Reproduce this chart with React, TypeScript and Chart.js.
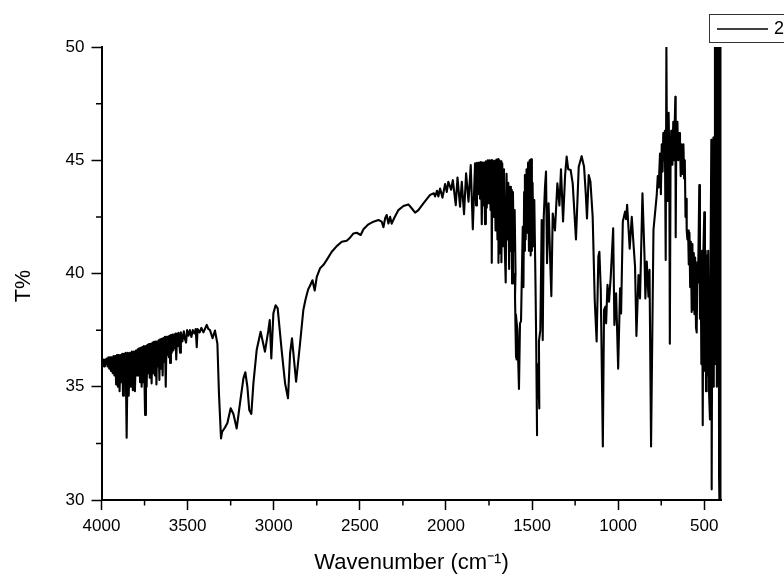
import React, { useEffect, useRef } from "react";
import { Chart, registerables } from "chart.js";

Chart.register(...registerables);

type P = [number, number];

const seriesName = "2";
const xMajorTicks = [4000, 3500, 3000, 2500, 2000, 1500, 1000, 500];
const xMinorTicks = [3750, 3250, 2750, 2250, 1750, 1250, 750];
const yMajorTicks = [30, 35, 40, 45, 50];
const yMinorTicks = [32.5, 37.5, 42.5, 47.5];

const noisyHigh: P[] = [
  [4000,36.1],[3995,35.9],[3990,36.2],[3985,35.9],[3980,36.2],[3975,36],[3970,36.25],[3965,35.9],[3960,36.3],[3955,35.8],
  [3950,36.3],[3945,35.7],[3940,36.3],[3935,35.6],[3930,36.35],[3925,35.5],[3920,36.35],[3915,35.1],[3910,36.4],[3905,35],
  [3900,36.4],[3895,34.8],[3890,36.4],[3885,35.2],[3880,36.45],[3875,34.6],[3870,36.45],[3865,35.3],[3860,36.5],[3854,32.75],
  [3848,36.5],[3842,34.6],[3836,36.5],[3830,35],[3824,36.55],[3818,34.85],[3812,36.55],[3806,34.8],[3800,36.6],[3794,35.5],
  [3790,36.65],[3785,35.5],[3781,36.7],[3776,35.2],[3772,36.72],[3767,35],[3763,36.75],[3758,35.2],[3754,36.8],[3747,33.75],
  [3742,36.8],[3738,35],[3733,36.85],[3729,35.6],[3724,36.88],[3720,35.4],[3715,36.9],[3709,35.15],[3704,36.95],[3700,35.6],
  [3695,36.98],[3690,35.5],[3686,37],[3681,35.1],[3677,37],[3672,35.9],[3668,37.05],[3664,35.3],[3659,37.1],[3654,35.8],
  [3650,37.12],[3645,35.5],[3641,37.15],[3636,36.1],[3632,37.2],[3627,35],[3622,37.2],[3618,36.4],[3613,37.22],[3609,36.3],
  [3605,37.25],[3602,36.05],[3597,37.28],[3592,36.5],[3588,37.3],[3583,36.6],[3579,37.3],[3574,36.7],[3570,37.35],[3566,36.2],
  [3561,37.35],[3556,36.8],[3552,37.38],[3547,36.8],[3544,36.5],[3539,37.4],[3530,37],[3522,37.45],[3515,37.1],[3509,36.95],
  [3503,37.5],[3495,37.25],[3487,37.5],[3478,37.2],[3470,37.5],[3460,37.35],[3453,37.55],[3447,36.75],[3442,37.55],[3430,37.4],
  [3420,37.6],[3408,37.4],[3389,37.73],[3380,37.55],
];

const nhBands: P[] = [
  [3370,37.5],[3355,37.14],[3341,37.48],[3327,36.9],[3318,34.7],[3306,32.72],[3300,33],[3283,33.2],[3269,33.4],[3250,34.05],
  [3234,33.8],[3215,33.16],[3196,34.27],[3176,35.37],[3165,35.64],[3153,35],[3142,33.97],[3130,33.8],[3118,35.15],[3099,36.62],
  [3076,37.43],[3051,36.55],[3031,37.5],[3023,37.95],[3014,36.25],[3002,38.24],[2989,38.6],[2977,38.46],[2954,36.62],[2934,35.15],
  [2917,34.49],[2905,36.47],[2894,37.14],[2870,35.22],[2847,36.92],[2828,38.39],[2816,38.83],[2800,39.3],[2790,39.45],[2775,39.7],
  [2762,39.25],[2750,39.85],
];

const risingSlope: P[] = [
  [2731,40.23],[2712,40.37],[2692,40.6],[2663,40.96],[2634,41.21],[2605,41.4],[2576,41.45],[2557,41.58],[2537,41.77],[2518,41.8],
  [2495,41.7],[2479,41.95],[2450,42.17],[2421,42.29],[2392,42.36],[2373,42.29],[2363,42.04],[2353,42.44],[2344,42.58],[2334,42.21],
  [2324,42.5],[2315,42.2],[2301,42.44],[2276,42.8],[2247,42.98],[2218,43.05],[2199,42.88],[2179,42.69],[2160,42.8],[2131,43.1],
  [2092,43.47],[2070,43.54],[2063,43.4],[2052,43.65],[2044,43.4],[2034,43.75],[2020,43.35],[2005,43.95],[1995,43.6],[1986,44.05],
];

const overtoneComb: P[] = [
  [1970,43.7],[1960,44.12],[1943,43.02],[1933,44.24],[1918,42.95],[1908,44.05],[1895,42.62],[1883,44.42],[1869,43.17],[1856,44.79],
  [1844,41.95],[1831,44.86],[1825,43],[1820,44.89],[1814,43.5],[1808,44.9],[1802,43.3],[1797,44.92],[1792,42.18],[1787,44.9],
  [1782,43],[1778,44.9],[1773,42.18],[1768,44.95],[1763,42.9],[1757,45],[1752,43.1],[1747,45],[1741,42.8],[1736,45],
  [1734,40.47],[1730,45],[1724,42.5],[1718,44.98],[1712,41.9],[1707,45.03],[1701,41.5],[1696,45.05],[1695,40.47],[1690,45],
  [1684,40.9],[1680,44.95],[1678,40.5],[1673,44.86],[1668,41.2],[1663,44.6],[1658,41],[1653,39.6],[1648,44.4],[1643,41.5],
  [1638,44],[1633,40.2],[1628,43.83],[1623,41],[1618,43.7],[1616,39.56],[1611,43.6],[1606,41],[1601,42.8],[1596,40],
];

const aromaticBands: P[] = [
  [1599,39],[1593,36.3],[1597,38],[1590,36.2],[1594,38.2],[1585,37.5],[1576,34.9],[1570,37.8],[1564,37.9],[1554,42.06],
  [1550,39.4],[1546,43.6],[1542,41],[1541,44.35],[1537,41.5],[1532,44.6],[1527,41.8],[1523,44.9],[1518,41],[1514,45],
  [1508,40.8],[1506,45.04],[1501,41],[1497,44],[1492,41.2],[1487,43.24],[1480,39.5],[1476,37],[1471,32.86],[1474,36],
  [1468,35],[1462,34.5],[1465,36],[1458,34.04],[1460,37],[1452,37.5],[1444,42.36],[1438,37.06],[1432,42.5],[1425,43.8],
  [1419,44.5],[1413,40.45],[1404,43.1],[1396,40.9],[1388,39],[1380,42.65],[1367,41.9],[1353,43.98],[1341,43],[1332,44.6],
  [1320,42.3],[1308,44.35],[1299,45.16],[1290,44.6],[1276,44.57],[1264,43.98],[1245,41.5],[1229,44.71],[1212,45.18],[1198,44.71],
  [1188,43.5],[1181,42.43],[1171,44.35],[1161,44.05],[1148,42.5],[1136,38.8],[1125,37],
];

const fingerprint: P[] = [
  [1115,40.75],[1109,40.96],[1101,39.27],[1089,32.36],[1082,38.39],[1074,38.54],[1070,37.8],[1062,39.5],[1053,38.76],[1043,39.86],
  [1029,42],[1022,37.73],[1012,39.13],[1000,35.8],[989,39.35],[983,38.24],[973,42.3],[960,42.73],[954,42.4],[948,43.03],
  [940,42],[933,41.1],[921,42.5],[911,41.3],[902,40.3],[894,37.24],[882,39.93],[873,38.9],[859,43.54],[847,40.75],
  [842,38.9],[834,40.53],[824,38.98],[818,40.16],[809,32.36],[795,41.92],[776,43.47],[770,44.3],[765,43.8],
];

const lowBand: P[] = [
  [757,45.3],[752,43.5],[747,45.7],[742,44.5],[738,46.2],[733,45],[729,46.3],[724,40.6],[720,50],[716,44.3],
  [714,43.2],[712,46.8],[707,47.1],[703,45],[700,36.9],[696,44.6],[692,46.3],[689,46],[685,44.8],[680,46.7],
  [675,45],[671,46.8],[668,47.8],[666,41.6],[662,46.6],[658,45.2],[656,46.7],[651,45],[646,46.2],[641,45.9],
  [637,44.3],[632,45.7],[627,44.4],[621,45.7],[617,44.2],[613,45],[609,42.5],[605,43.3],[602,41.9],[598,41.5],
  [594,41.9],[590,40.4],[586,41.8],[582,39.4],[578,41.4],[573,38.3],[569,41.3],[565,38.4],[561,40.9],[557,38.2],
  [553,40.7],[548,37.6],[544,37.4],[540,40.5],[536,39.6],[529,43.9],[525,38],[521,40.9],[517,36],[513,41],
];

const edgeNoise: P[] = [
  [509,33.3],[505,41],[500,42.7],[496,35.7],[492,41],[490,34.8],[486,40.8],[481,35.5],[477,41],[472,34.7],
  [467,33.56],[463,41.2],[459,45.9],[457,30.47],[453,41],[450,35],[447,46],[445,35],[441,44],[438,50.5],
  [434,36],[431,51],[427,35],[424,52],[420,44],[417,52],[414,31],[412,52],[409,29],[406,52],
  [403,29],[400,52],
];

const spectrum: P[] = [
  ...noisyHigh, ...nhBands, ...risingSlope, ...overtoneComb, ...aromaticBands, ...fingerprint, ...lowBand, ...edgeNoise,
];

const FONT = "'Liberation Sans', Arial, sans-serif";
const yAxisTitle = "T%";

const overlay = {
  id: "overlay",
  afterDraw(chart: any) {
    const { ctx, scales } = chart;
    const bottom = chart.chartArea.bottom;
    const left = chart.chartArea.left;
    ctx.save();
    ctx.strokeStyle = "#000";
    ctx.lineWidth = 1.5;
    ctx.beginPath();
    xMinorTicks.forEach((v) => {
      const px = scales.x.getPixelForValue(v);
      ctx.moveTo(px, bottom);
      ctx.lineTo(px, bottom + 5.5);
    });
    yMinorTicks.forEach((v) => {
      const py = scales.y.getPixelForValue(v);
      ctx.moveTo(left, py);
      ctx.lineTo(left - 5.5, py);
    });
    ctx.stroke();
    // legend box, running off the right edge as in the source figure
    ctx.lineWidth = 1;
    ctx.strokeStyle = "#333";
    ctx.strokeRect(709.5, 14.5, 90, 28);
    ctx.strokeStyle = "#000";
    ctx.lineWidth = 1.7;
    ctx.beginPath();
    ctx.moveTo(717, 29);
    ctx.lineTo(768, 29);
    ctx.stroke();
    ctx.fillStyle = "#000";
    ctx.font = `18px ${FONT}`;
    ctx.textAlign = "left";
    ctx.textBaseline = "middle";
    ctx.fillText(chart.data.datasets[0].label, 774, 29);
    // y axis title sits a little below the axis centre in the source
    ctx.font = `21.5px ${FONT}`;
    ctx.textAlign = "center";
    ctx.translate(24, 286);
    ctx.rotate(-Math.PI / 2);
    ctx.fillText(yAxisTitle, 0, 0);
    ctx.restore();
  },
};

export default function App() {
  const ref = useRef<HTMLCanvasElement>(null);
  useEffect(() => {
    document.body.style.margin = "0";
    const chart = new Chart(ref.current!, {
      type: "line",
      data: {
        datasets: [
          {
            label: seriesName,
            data: spectrum.map(([x, y]) => ({ x, y })),
            borderColor: "#000",
            borderWidth: 2.1,
            borderJoinStyle: "round",
            pointRadius: 0,
            tension: 0,
            fill: false,
          },
        ],
      },
      options: {
        animation: false,
        responsive: false,
        layout: { padding: { top: 47, right: 62.5, left: 0, bottom: 0 } },
        plugins: { legend: { display: false }, tooltip: { enabled: false } },
        scales: {
          x: {
            type: "linear",
            reverse: true,
            min: 400,
            max: 4000,
            afterBuildTicks: (s: any) => {
              s.ticks = xMajorTicks.map((value) => ({ value }));
            },
            afterFit: (s: any) => {
              s.height = 74;
            },
            border: { color: "#000", width: 2 },
            grid: { drawOnChartArea: false, tickLength: 10, tickColor: "#000", tickWidth: 1.5 },
            ticks: {
              color: "#000",
              font: { family: FONT, size: 17 },
              maxRotation: 0,
              autoSkip: false,
              padding: 6,
              callback: (v: any) => String(v),
            },
            title: {
              display: true,
              text: "Wavenumber (cm⁻¹)",
              color: "#000",
              font: { family: FONT, size: 22 },
              padding: { top: -2, bottom: -2 },
            },
          },
          y: {
            min: 30,
            max: 50,
            afterBuildTicks: (s: any) => {
              s.ticks = yMajorTicks.map((value) => ({ value }));
            },
            afterFit: (s: any) => {
              s.width = 101.5;
            },
            border: { color: "#000", width: 2 },
            grid: { drawOnChartArea: false, tickLength: 10, tickColor: "#000", tickWidth: 1.5 },
            ticks: { color: "#000", font: { family: FONT, size: 17 }, padding: 7 },
          },
        },
      },
      plugins: [overlay],
    } as any);
    return () => chart.destroy();
  }, []);
  return <canvas ref={ref} width={784} height={574} style={{ display: "block" }} />;
}
